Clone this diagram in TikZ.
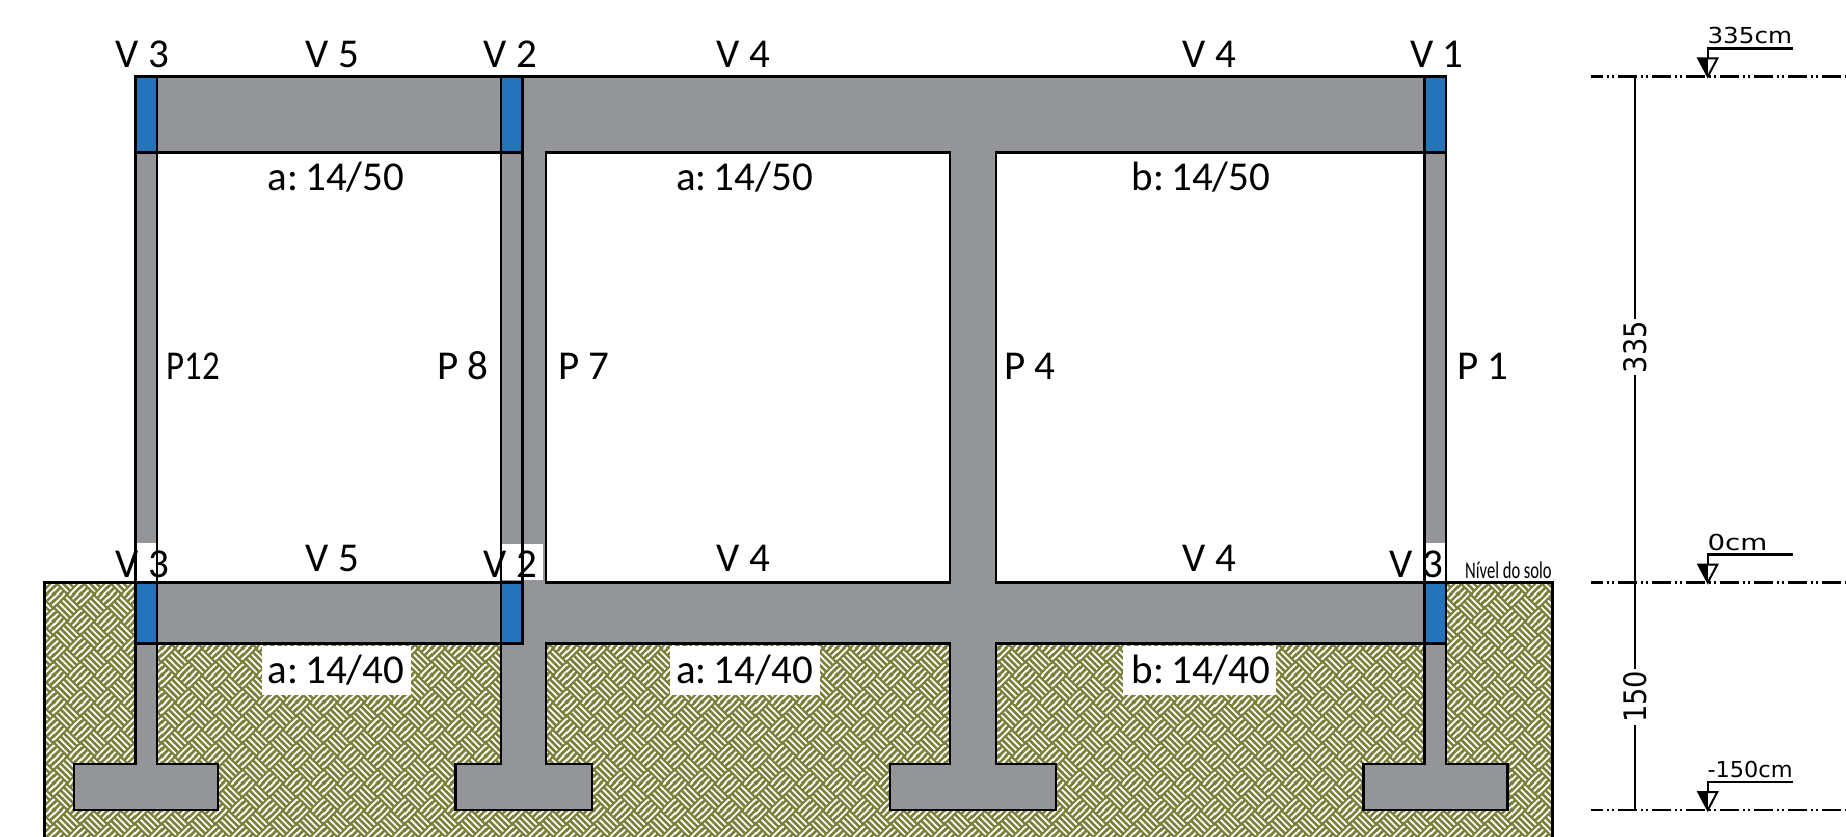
\documentclass[tikz,border=0pt]{standalone}
\usepackage{fontspec}
\setmainfont{Carlito}
\newfontfamily\dimfont{DejaVu Sans}
\usetikzlibrary{patterns}
\definecolor{concrete}{HTML}{939598}
\definecolor{beamblue}{HTML}{2574BB}
\definecolor{soil}{HTML}{7B7F3A}
\pgfdeclarepatternformonly{weave}{\pgfqpoint{0pt}{0pt}}{\pgfqpoint{27pt}{27pt}}{\pgfqpoint{27pt}{27pt}}{%
  \pgfsetlinewidth{1.8pt}%
  \pgfsetbuttcap
  \foreach \cx/\cy in {0/0,27/0,0/27,27/27}{%
    \foreach \a in {-5.09,-1.70,1.70,5.09}{%
      \pgfpathmoveto{\pgfpoint{\cx pt+\a pt-6pt}{\cy pt-\a pt-6pt}}%
      \pgfpathlineto{\pgfpoint{\cx pt+\a pt+6pt}{\cy pt-\a pt+6pt}}%
      \pgfusepath{stroke}%
    }%
  }%
  \foreach \a in {-5.09,-1.70,1.70,5.09}{%
    \pgfpathmoveto{\pgfpoint{13.5pt+\a pt-6pt}{13.5pt+\a pt+6pt}}%
    \pgfpathlineto{\pgfpoint{13.5pt+\a pt+6pt}{13.5pt+\a pt-6pt}}%
    \pgfusepath{stroke}%
  }%
}
\tikzset{
  struct/.style={draw=black,line width=2.6pt,line join=miter},
  lbl/.style={inner sep=0pt,anchor=base,font=\fontsize{41}{41}\selectfont},
  whitepatch/.style={fill=white,draw=none},
  levelline/.style={line width=2.8pt,dash pattern=on 19pt off 3.5pt on 2pt off 3pt on 2pt off 4.5pt,dash phase=6.3pt},
  dimlbl/.style={inner sep=0pt,anchor=base west,font=\dimfont\fontsize{22}{22}\selectfont},
  dimnum/.style={inner sep=2pt,fill=white,rotate=90,font=\dimfont\fontsize{31}{31}\selectfont},
}
\newcommand{\sizelabel}[2]{#1:\hspace{7pt}#2}
\begin{document}
\begin{tikzpicture}[x=1pt,y=-1pt]
\useasboundingbox (0,0) rectangle (1846,837);
% soil
\fill[soil] (44.7,582.5) rectangle (1552.3,840);
\fill[pattern=weave,pattern color=white] (44.7,582.5) rectangle (1552.3,840);
\draw[struct] (44.7,840) -- (44.7,582.5) -- (1552.3,582.5) -- (1552.3,840);
% structure
\def\outerpath{(135.6,76.5) -- (1446,76.5) -- (1446,764) -- (1507.3,764) -- (1507.3,810) -- (1363.3,810) -- (1363.3,764) -- (1424.5,764) -- (1424.5,643.3) -- (996,643.3) -- (996,764) -- (1056,764) -- (1056,810) -- (890,810) -- (890,764) -- (950,764) -- (950,643.3) -- (546,643.3) -- (546,764) -- (592,764) -- (592,810) -- (455.5,810) -- (455.5,764) -- (501,764) -- (501,643.3) -- (157,643.3) -- (157,764) -- (218,764) -- (218,810) -- (74,810) -- (74,764) -- (135.6,764) -- cycle}
\fill[concrete] \outerpath;
\fill[white] (157,152.3) rectangle (501,582.5) (546,152.3) rectangle (950,582.5) (996,152.3) rectangle (1424.5,582.5);
% white patches behind the lower labels
\fill[whitepatch] (136,543) rectangle (156.5,582);
\fill[whitepatch] (501.5,544) rectangle (543,580);
\fill[whitepatch] (1425,543) rectangle (1445.5,582);
% white patches behind lower section labels
\fill[whitepatch] (261.8,645.7) rectangle (411,695);
\fill[whitepatch] (670,645.7) rectangle (820,695);
\fill[whitepatch] (1123,645.7) rectangle (1276,695);
% outlines
\draw[struct] \outerpath;
\draw[struct] (157,152.3) rectangle (501,582.5);
\draw[struct] (546,152.3) rectangle (950,582.5);
\draw[struct] (996,152.3) rectangle (1424.5,582.5);
\draw[struct] (522.5,152.3) -- (522.5,582.5);
% blue beam sections
\foreach \xa/\xb in {135.6/157,501/522.5,1424.5/1446}{
  \filldraw[struct,fill=beamblue] (\xa,76.5) rectangle (\xb,152.3);
  \filldraw[struct,fill=beamblue] (\xa,582.5) rectangle (\xb,643.3);
}
% labels
\node[lbl] (v3t) at (142.5,67.5) {V 3};
\node[lbl] (v5t) at (332.5,67.5) {V 5};
\node[lbl] (v2t) at (510.5,67.5) {V 2};
\node[lbl] (v4ta) at (743.5,67.5) {V 4};
\node[lbl] (v4tb) at (1209.5,67.5) {V 4};
\node[lbl] (v1t) at (1437,67.5) {V 1};
\node[lbl] (sa) at (336,190) {\sizelabel{a}{14/50}};
\node[lbl] (sb) at (744.5,190) {\sizelabel{a}{14/50}};
\node[lbl] (sc) at (1201,190) {\sizelabel{b}{14/50}};
\node[lbl,xscale=.85] (p12) at (193,379.5) {P12};
\node[lbl] (p8) at (462.7,379.5) {P 8};
\node[lbl] (p7) at (584,379.5) {P 7};
\node[lbl] (p4) at (1030,379.5) {P 4};
\node[lbl] (p1) at (1483,379.5) {P 1};
\node[lbl] (v3b) at (142.5,577) {V 3};
\node[lbl] (v5b) at (332.5,571.5) {V 5};
\node[lbl] (v2b) at (510.5,577) {V 2};
\node[lbl] (v4ba) at (743.5,571.5) {V 4};
\node[lbl] (v4bb) at (1209.5,571.5) {V 4};
\node[lbl] (v3r) at (1416.5,577) {V 3};
\node[lbl] (la) at (336,683.5) {\sizelabel{a}{14/40}};
\node[lbl] (lb) at (744.5,683.5) {\sizelabel{a}{14/40}};
\node[lbl] (lc) at (1201,683.5) {\sizelabel{b}{14/40}};
\node[inner sep=0pt,anchor=base west] (solo) at (1465,578) {\scalebox{.69}[1]{\fontsize{24}{24}\selectfont Nível do solo}};
% levels
\foreach \nm/\yy/\sx/\txt in {a/76.5/1.12/335cm,b/582.5/1.26/0cm,c/810/1.02/-150cm}{
  \coordinate (s\nm) at (1590.7,\yy);
  \coordinate (e\nm) at (1846,\yy);
  \coordinate (t\nm) at (1707.8,\yy);
  \draw[levelline] (s\nm) -- (e\nm);
  \draw[line width=2.4pt] (t\nm) ++(0,-18) -- ++(0,-10) -- ++(85,0);
  \filldraw[draw=black,line width=2pt,fill=white,line join=miter] (t\nm) -- ++(-9.5,-18) -- ++(19,0) -- cycle;
  \fill[black] (t\nm) -- ++(-9.5,-18) -- ++(9.5,0) -- cycle;
  \node[dimlbl] (lab\nm) at ([shift={(-0.5,-32.5)}]t\nm) {\scalebox{\sx}[1]{\txt}};
}
\draw[line width=2pt] (1634.7,76.5) -- (1634.7,810);
\node[dimnum] (n335) at (1634.7,347) {\scalebox{.88}[1]{335}};
\node[dimnum] (n150) at (1634.7,696.7) {\scalebox{.88}[1]{150}};
\end{tikzpicture}
\end{document}
